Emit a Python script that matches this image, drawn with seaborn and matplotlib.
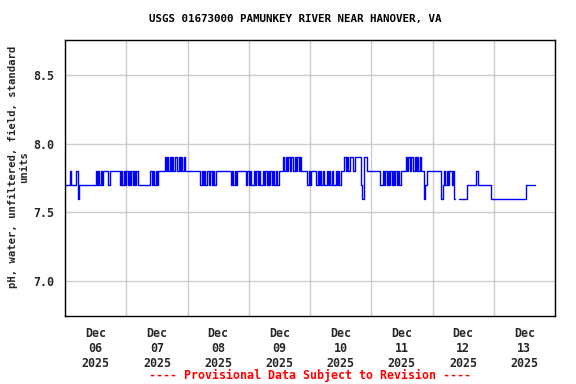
import numpy as np
import pandas as pd
import matplotlib
matplotlib.use("Agg")
import matplotlib.pyplot as plt
import matplotlib.dates as mdates
import seaborn as sns

# ---- data: one character per 30-minute reading, starting at midnight of each day ----
# '6' = 7.6, '7' = 7.7, '8' = 7.8, '9' = 7.9, '-' = missing
PH_CODE = {"6": 7.6, "7": 7.7, "8": 7.8, "9": 7.9}
day06 = "7777" "8" "7777" "8" "6" "7777777777777" "87878" "7" "8888" "7" "88888888" "78787"
day07 = "8787878787" "777777777" "878787" "88888" "989898989989898988"
day08 = "8888888888" "787878878787" "888888888888" "787878" "888888" "78"
day09 = "7877878787787878787878778" "88" "989898998989898" "8888" "78"
day10 = "78" "888" "7878787787878778787" "88" "89898999899999" "76" "999" "888"
day11 = "8888888" "77878787878787878" "888" "9898998989898" "86" "778" "888"
day12 = "8888888" "67878788786" "6" "--" "666666" "7777777" "88" "7777777777" "66"
day13 = "6666666666666666666666666" "77777777"
day_codes = [day06, day07, day08, day09, day10, day11, day12, day13]
start_day = "2025-12-06"

tick_days = ["2025-12-06", "2025-12-07", "2025-12-08", "2025-12-09",
             "2025-12-10", "2025-12-11", "2025-12-12", "2025-12-13"]
y_ticks = [7.0, 7.5, 8.0, 8.5]

title = "USGS 01673000 PAMUNKEY RIVER NEAR HANOVER, VA"
ylabel = "pH, water, unfiltered, field, standard\nunits"
footer = "---- Provisional Data Subject to Revision ----"

# ---- build table ----
t0 = pd.Timestamp(start_day)
rows = []
seg = 0
for d, codes in enumerate(day_codes):
    for i, c in enumerate(codes):
        t = t0 + pd.Timedelta(days=d, minutes=30 * i)
        if c == "-":
            seg += 1
            continue
        rows.append((t, PH_CODE[c], seg))
df = pd.DataFrame(rows, columns=["time", "ph", "seg"])

# ---- plot ----
sns.set_theme(style="white")
plt.rcParams["font.family"] = ["DejaVu Sans Mono"]
plt.rcParams["font.weight"] = "bold"

fig = plt.figure(figsize=(5.76, 3.84), dpi=100)
ax = fig.add_axes([65 / 576, 1 - 316 / 384, 490 / 576, 276 / 384])

sns.lineplot(data=df, x="time", y="ph", units="seg", estimator=None,
             color="#0000ff", lw=1.0, drawstyle="steps-post", ax=ax, legend=False)

ax.set_xlim(pd.Timestamp("2025-12-06"), pd.Timestamp("2025-12-14"))
ax.set_ylim(6.745, 8.755)

ax.xaxis.set_major_locator(mdates.DayLocator())
ax.xaxis.set_major_formatter(plt.NullFormatter())
ax.set_xticks([pd.Timestamp(d) + pd.Timedelta(hours=12) for d in tick_days], minor=True)
ax.set_xticklabels([pd.Timestamp(d).strftime("%b\n%d\n%Y") for d in tick_days],
                   minor=True, fontsize=8.4, fontweight="bold")
ax.set_yticks(y_ticks)
ax.set_yticklabels([f"{v:.1f}" for v in y_ticks], fontsize=8.4, fontweight="bold")
ax.tick_params(axis="both", which="both", length=0)
ax.tick_params(axis="x", which="minor", pad=8)
ax.tick_params(axis="y", pad=8)

ax.grid(True, which="major", color="#cccccc", lw=1)
for s in ax.spines.values():
    s.set_color("black")
    s.set_linewidth(1)

ax.set_xlabel("")
ax.set_ylabel(ylabel, fontsize=7.6, fontweight="bold", linespacing=1.1)
ax.yaxis.set_label_coords(-0.074, 0.54)

fig.text(295 / 576, 1 - 19 / 384, title, ha="center", va="center",
         fontsize=7.8, fontweight="bold", color="black")
fig.text(310 / 576, 1 - 375 / 384, footer, ha="center", va="center",
         fontsize=8.4, fontweight="bold", color="red")

fig.savefig("out.png", dpi=100)
